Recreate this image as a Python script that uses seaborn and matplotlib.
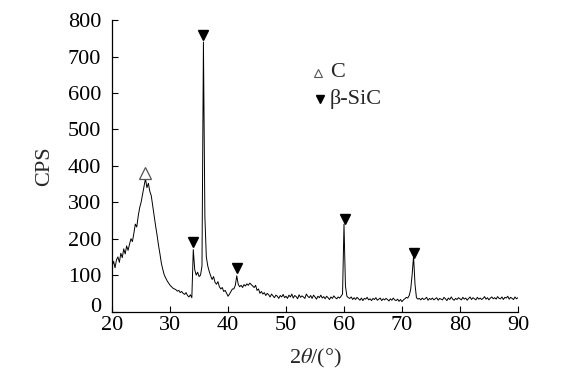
import numpy as np
import pandas as pd
import matplotlib
matplotlib.use('Agg')
import matplotlib.pyplot as plt
import matplotlib.transforms as mtransforms
import seaborn as sns

# XRD scan 20-90 deg, 0.25 deg step, counts (one row per degree)
cps_rows = [
    [125, 138, 120, 142], [150, 135, 160, 148], [172, 158, 180, 168],   # 20-22
    [185, 200, 192, 215], [240, 232, 262, 285], [300, 322, 345, 365],   # 23-25
    [340, 352, 330, 318], [290, 262, 235, 210], [182, 158, 132, 115],   # 26-28
    [100, 92, 84, 78], [72, 68, 64, 62], [60, 56, 58, 52],              # 29-31
    [55, 50, 47, 52], [44, 40, 46, 38], [170, 115, 100, 108],           # 32-34
    [96, 100, 125, 740], [260, 150, 125, 110], [98, 88, 96, 80],        # 35-37
    [75, 82, 68, 62], [66, 55, 58, 50], [42, 48, 55, 62],               # 38-40
    [62, 72, 98, 75], [68, 72, 66, 74], [70, 76, 72, 78],               # 41-43
    [74, 70, 66, 72], [58, 62, 50, 55], [48, 52, 44, 50],               # 44-46
    [46, 40, 48, 43], [38, 45, 42, 36], [44, 40, 47, 38],               # 47-49
    [42, 36, 45, 40], [48, 37, 44, 41], [35, 46, 39, 43],               # 50-52
    [40, 36, 48, 42], [38, 44, 36, 45], [40, 34, 42, 38],               # 53-55
    [45, 37, 41, 35], [42, 38, 33, 40], [36, 43, 38, 35],               # 56-58
    [40, 37, 42, 48], [240, 70, 42, 38], [36, 40, 33, 38],              # 59-61
    [33, 39, 35, 31], [37, 30, 36, 34], [39, 32, 35, 30],               # 62-64
    [36, 33, 38, 31], [34, 37, 30, 35], [32, 36, 33, 29],               # 65-67
    [35, 31, 37, 32], [30, 34, 28, 33], [27, 32, 35, 39],               # 68-70
    [37, 44, 60, 100], [152, 75, 38, 34], [36, 32, 37, 33],             # 71-73
    [35, 39, 31, 36], [33, 37, 32, 35], [38, 31, 36, 34],               # 74-76
    [32, 39, 35, 30], [37, 33, 40, 34], [31, 36, 33, 38],               # 77-79
    [35, 32, 39, 34], [37, 31, 36, 40], [33, 38, 35, 32],               # 80-82
    [39, 34, 37, 33], [36, 41, 34, 38], [32, 37, 40, 35],               # 83-85
    [38, 34, 41, 36], [35, 40, 33, 39], [37, 42, 34, 39],               # 86-88
    [36, 33, 40, 35], [38],                                             # 89-90
]
cps = [v for row in cps_rows for v in row]
two_theta = np.linspace(20, 90, len(cps))

# phase markers
c_peaks_x = [25.7]
c_peaks_y = [380]
sic_peaks_x = [34.0, 35.7, 41.5, 60.1, 72.0]
sic_peaks_y = [190, 760, 120, 255, 162]

df = pd.DataFrame({'2theta': two_theta, 'CPS': cps})

sns.set_style('ticks')
plt.rcParams['font.family'] = ['Liberation Serif', 'DejaVu Serif']
plt.rcParams['mathtext.fontset'] = 'stix'

fig = plt.figure(figsize=(5.78, 3.87), dpi=100)
ax = fig.add_axes([0.194, 0.195, 0.702, 0.753])

sns.lineplot(data=df, x='2theta', y='CPS', ax=ax, color='black', linewidth=0.7)

ax.plot(c_peaks_x, c_peaks_y, linestyle='none', marker='^', markersize=8,
        markerfacecolor='white', markeredgecolor='#555555', markeredgewidth=0.9)
ax.plot(sic_peaks_x, sic_peaks_y, linestyle='none', marker='v', markersize=7,
        color='black')

# legend made of markers + text
ax.plot([55.6], [655], linestyle='none', marker='^', markersize=6,
        markerfacecolor='white', markeredgecolor='#555555', markeredgewidth=0.8)
ax.text(57.6, 655, 'C', fontsize=16, va='center', ha='left')
ax.plot([55.8], [583], linestyle='none', marker='v', markersize=6, color='black')
ax.text(57.6, 583, 'β-SiC', fontsize=16, va='center', ha='left')

ax.set_xlim(20, 90)
ax.set_ylim(0, 800)
ax.set_xticks(range(20, 91, 10))
ax.set_yticks(range(0, 801, 100))
ax.tick_params(direction='in', length=4.5, width=0.8, labelsize=16, colors='black')
ax.tick_params(axis='y', pad=8)
ax.tick_params(axis='x', pad=3)
for s in ['left', 'bottom']:
    ax.spines[s].set_linewidth(0.9)
    ax.spines[s].set_color('black')
sns.despine(ax=ax)

ax.set_xlabel('2$\\theta$/(°)', fontsize=16, labelpad=9)
ax.set_ylabel('CPS', fontsize=16, labelpad=10)

# the zero label sits a little higher in the original
fig.canvas.draw()
zero_lab = ax.get_yticklabels()[0]
zero_lab.set_transform(zero_lab.get_transform() +
                       mtransforms.ScaledTranslation(0, 5 / 72, fig.dpi_scale_trans))

plt.savefig('out.png', dpi=100)
plt.close()
